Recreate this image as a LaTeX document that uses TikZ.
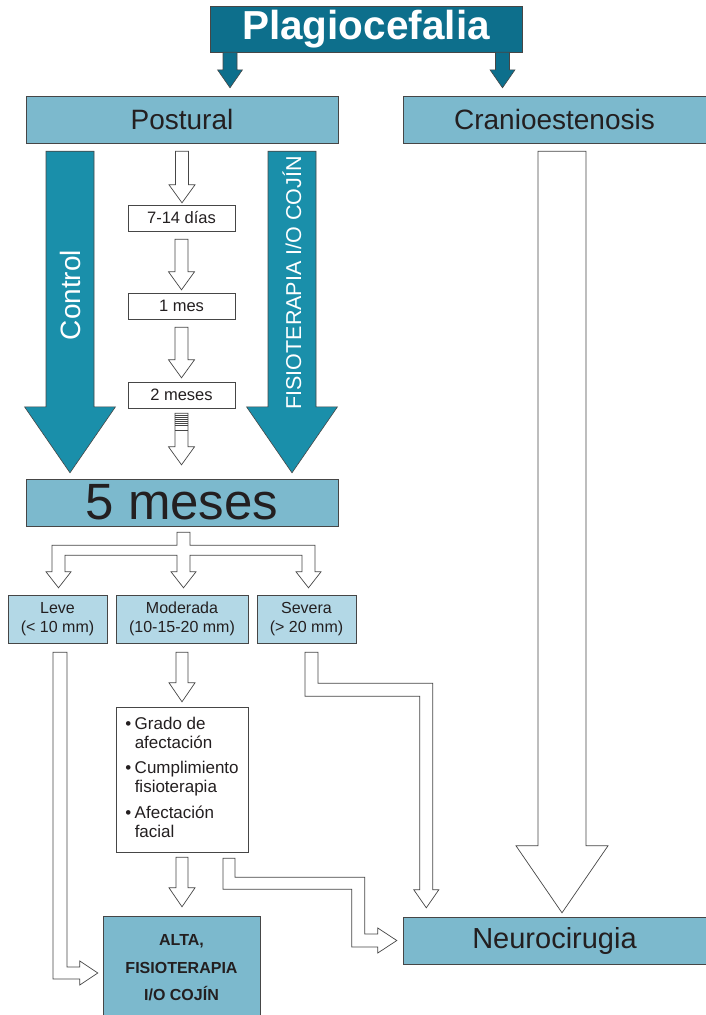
\documentclass[tikz,border=0pt]{standalone}
\usepackage{fontspec}
\setmainfont{Liberation Sans}
\usetikzlibrary{calc}

\definecolor{plagioteal}{RGB}{13,111,140}
\definecolor{arrowteal}{RGB}{26,143,170}
\definecolor{midblue}{RGB}{124,185,205}
\definecolor{lightblue}{RGB}{179,216,230}
\definecolor{inkgray}{RGB}{35,31,32}
\definecolor{edgegray}{RGB}{70,70,70}

\tikzset{
  hollow/.style={draw=edgegray, fill=white, line width=0.7pt, line join=miter},
  solidteal/.style={draw=edgegray, fill=arrowteal, line width=0.6pt},
  solidtop/.style={draw=edgegray, fill=plagioteal, line width=0.6pt},
  topbox/.style={draw=edgegray, fill=plagioteal, text=white, inner sep=0pt,
    font=\fontsize{40.5}{40.5}\bfseries\selectfont},
  midbox/.style={draw=edgegray, fill=midblue, inner sep=0pt, minimum height=47pt,
    font=\fontsize{28}{28}\selectfont},
  stepbox/.style={draw=edgegray, fill=white, inner sep=0pt, minimum width=107pt,
    minimum height=26pt, font=\fontsize{16.5}{16.5}\selectfont},
  gradebox/.style={draw=edgegray, fill=lightblue, inner sep=0pt, minimum height=48pt,
    align=center, font=\fontsize{16}{19}\selectfont},
}

% vertical block arrow: [style]{start}{tip}{half shaft}{half head}{head length}
\newcommand{\blockdown}[6][hollow]{%
  \draw[#1] let \p1=#2, \p2=#3 in
    (\x1-#4pt,\y1) -- (\x1+#4pt,\y1) -- (\x1+#4pt,\y2+#6pt) -- (\x1+#5pt,\y2+#6pt)
    -- (\x1,\y2) -- (\x1-#5pt,\y2+#6pt) -- (\x1-#4pt,\y2+#6pt) -- cycle;}

\begin{document}
\begin{tikzpicture}[x=1pt, y=-1pt, text=inkgray]
  \useasboundingbox (0,0) rectangle (706,1015);

  % Top level
  \node[topbox, minimum width=312pt, minimum height=46pt] (plagio) at (366,29) {Plagiocefalia};
  \node[midbox, minimum width=312pt] (postural) at (182,119.5) {Postural};
  \node[midbox, minimum width=303pt] (cranio) at (554.5,119.5) {Cranioestenosis};
  \blockdown[solidtop]{([xshift=-136pt]plagio.south)}{([xshift=48pt,yshift=8pt]postural.north)}{7}{12.5}{18}
  \blockdown[solidtop]{([xshift=136.5pt]plagio.south)}{([xshift=-52pt,yshift=8pt]cranio.north)}{7}{12.5}{18}

  % Follow-up steps
  \node[stepbox] (d7) at (181.5,218) {7-14 días};
  \node[stepbox] (m1) at (181.5,306) {1 mes};
  \node[stepbox] (m2) at (181.5,395) {2 meses};
  \node[midbox, minimum width=312pt, font=\fontsize{51}{51}\selectfont] (m5) at (182,502.5) {5 meses};

  \blockdown{([yshift=-8pt]postural.south)}{([yshift=2pt]d7.north)}{6.5}{13}{18}
  \blockdown{([yshift=-8pt]d7.south)}{([yshift=3pt]m1.north)}{6.5}{13}{18}
  \blockdown{([yshift=-8pt]m1.south)}{([yshift=4pt]m2.north)}{6.5}{13}{18}
  \blockdown{([yshift=-5pt]m2.south)}{([yshift=14pt]m5.north)}{6.5}{13}{18}
  \foreach \d in {2,4,6,8,10,12,17}
    \draw[edgegray, line width=0.7pt] ([xshift=-6.5pt,yshift=-5pt-\d pt]m2.south) -- ++(13,0);

  % Side arrows: control and fisioterapia
  \blockdown[solidteal]{([xshift=-112pt,yshift=-8pt]postural.south)}{([xshift=-112pt,yshift=6pt]m5.north)}{24}{45.5}{66}
  \blockdown[solidteal]{([xshift=110pt,yshift=-8pt]postural.south)}{([xshift=110pt,yshift=6pt]m5.north)}{24}{45.5}{66}
  \node[rotate=90, text=white, font=\fontsize{28}{28}\selectfont] (ctltxt) at (70,295) {Control};
  \node[rotate=90, text=white, font=\fontsize{21.5}{21.5}\selectfont] (fisiotxt) at (292,283) {FISIOTERAPIA I/O COJÍN};

  % Severity
  \node[gradebox, minimum width=99pt] (leve) at (57.5,619) {Leve\\(< 10 mm)};
  \node[gradebox, minimum width=132pt] (moder) at (182,619) {Moderada\\(10-15-20 mm)};
  \node[gradebox, minimum width=99pt] (severa) at (306.5,619) {Severa\\(> 20 mm)};

  \draw[hollow] let \p1=([xshift=1.5pt,yshift=-6pt]m5.south), \p2=([xshift=1pt,yshift=7pt]leve.north),
      \p3=([xshift=1.5pt,yshift=7pt]moder.north), \p4=([xshift=2pt,yshift=7pt]severa.north) in
    (\x1-6.5pt,\y1) -- (\x1+6.5pt,\y1) -- (\x1+6.5pt,\y1-13pt) -- (\x4+6.5pt,\y1-13pt)
    -- (\x4+6.5pt,\y4+16pt) -- (\x4+12.5pt,\y4+16pt) -- (\x4,\y4) -- (\x4-12.5pt,\y4+16pt)
    -- (\x4-6.5pt,\y4+16pt) -- (\x4-6.5pt,\y1-23pt) -- (\x3+6.5pt,\y1-23pt)
    -- (\x3+6.5pt,\y3+16pt) -- (\x3+12.5pt,\y3+16pt) -- (\x3,\y3) -- (\x3-12.5pt,\y3+16pt)
    -- (\x3-6.5pt,\y3+16pt) -- (\x3-6.5pt,\y1-23pt) -- (\x2+6.5pt,\y1-23pt)
    -- (\x2+6.5pt,\y2+16pt) -- (\x2+12.5pt,\y2+16pt) -- (\x2,\y2) -- (\x2-12.5pt,\y2+16pt)
    -- (\x2-6.5pt,\y2+16pt) -- (\x2-6.5pt,\y1-13pt) -- (\x1-6.5pt,\y1-13pt) -- cycle;

  % Criteria and outcomes
  \node[draw=edgegray, fill=white, inner sep=0pt, minimum width=132pt, minimum height=145pt,
    font=\fontsize{17}{19}\selectfont] (crit) at (182,779.5) {%
    \begin{tabular}{@{}l@{\hspace{3.5pt}}l@{}}
      • & Grado de\\ & afectación\\[6.5pt]
      • & Cumplimiento\\ & fisioterapia\\[6.5pt]
      • & Afectación\\ & facial
    \end{tabular}};
  \node[midbox, minimum width=157pt, minimum height=104pt, align=center,
    font=\fontsize{16}{27.5}\bfseries\selectfont] (alta) at (181.5,968) {ALTA,\\FISIOTERAPIA\\I/O COJÍN};
  \node[midbox, minimum width=303pt, font=\fontsize{29}{29}\selectfont] (neuro) at (554.5,940.5) {Neurocirugia};

  \blockdown{([yshift=-9pt]moder.south)}{([yshift=5pt]crit.north)}{6}{13}{19}
  \blockdown{([yshift=-5pt]crit.south)}{([yshift=9pt]alta.north)}{6}{13}{19}
  \blockdown{([xshift=7.5pt,yshift=-8pt]cranio.south)}{([xshift=7.5pt,yshift=4pt]neuro.north)}{24}{46}{67}

  % Leve to alta
  \draw[hollow] let \p1=([xshift=2.5pt,yshift=-9pt]leve.south), \p2=([xshift=-5pt,yshift=-5pt]alta.west) in
    (\x1-7pt,\y1) -- (\x1+7pt,\y1) -- (\x1+7pt,\y2+6pt) -- (\x2-18pt,\y2+6pt) -- (\x2-18pt,\y2+12pt)
    -- (\x2,\y2) -- (\x2-18pt,\y2-12pt) -- (\x2-18pt,\y2-6pt) -- (\x1-7pt,\y2-6pt) -- cycle;

  % Severa to neurocirugia
  \draw[hollow] let \p1=([xshift=5pt,yshift=-9pt]severa.south), \p2=([xshift=23.5pt,yshift=9pt]neuro.north west) in
    (\x1-6.5pt,\y1) -- (\x1+6.5pt,\y1) -- (\x1+6.5pt,\y1-31pt) -- (\x2+6.5pt,\y1-31pt)
    -- (\x2+6.5pt,\y2+18pt) -- (\x2+12.5pt,\y2+18pt) -- (\x2,\y2) -- (\x2-12.5pt,\y2+18pt)
    -- (\x2-6.5pt,\y2+18pt) -- (\x2-6.5pt,\y1-44pt) -- (\x1-6.5pt,\y1-44pt) -- cycle;

  % Criteria to neurocirugia
  \draw[hollow] let \p1=([xshift=47pt,yshift=-6pt]crit.south), \p2=([xshift=-6pt]neuro.west) in
    (\x1-6pt,\y1) -- (\x1+6pt,\y1) -- (\x1+6pt,\y1-19pt) -- (\x2-32pt,\y1-19pt) -- (\x2-32pt,\y2+6.5pt)
    -- (\x2-19pt,\y2+6.5pt) -- (\x2-19pt,\y2+12.5pt) -- (\x2,\y2) -- (\x2-19pt,\y2-12.5pt)
    -- (\x2-19pt,\y2-6.5pt) -- (\x2-45pt,\y2-6.5pt) -- (\x2-45pt,\y1-31pt) -- (\x1-6pt,\y1-31pt) -- cycle;
\end{tikzpicture}
\end{document}
